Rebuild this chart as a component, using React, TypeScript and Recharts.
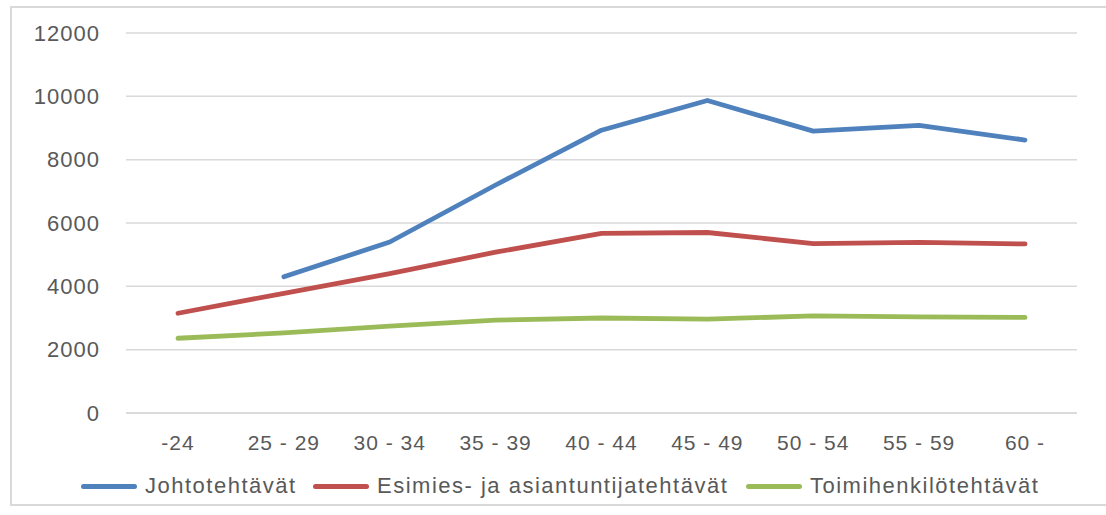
import { LineChart, Line, XAxis, YAxis, CartesianGrid } from 'recharts'

const ageGroups = ['-24', '25 - 29', '30 - 34', '35 - 39', '40 - 44', '45 - 49', '50 - 54', '55 - 59', '60 -']
const johto = [null, 4300, 5400, 7200, 8930, 9870, 8900, 9080, 8620]
const esimies = [3150, 3780, 4400, 5080, 5670, 5700, 5350, 5385, 5340]
const toimi = [2360, 2530, 2745, 2930, 3000, 2965, 3065, 3035, 3020]
const yTicks = [0, 2000, 4000, 6000, 8000, 10000, 12000]

const seriesInfo = [
  { key: 'johto', name: 'Johtotehtävät', color: '#4f81bd', left: 81 },
  { key: 'esimies', name: 'Esimies- ja asiantuntijatehtävät', color: '#c0504d', left: 313 },
  { key: 'toimi', name: 'Toimihenkilötehtävät', color: '#9bbb59', left: 746 },
]

const data = ageGroups.map((g, i) => ({
  group: g,
  johto: johto[i],
  esimies: esimies[i],
  toimi: toimi[i],
}))

const font = '"Liberation Sans", Arial, sans-serif'

function CustomLegend() {
  return (
    <div style={{ position: 'absolute', left: 0, top: 473, width: 1106, height: 28, fontFamily: font, fontSize: 22, letterSpacing: 1.5, color: '#595959' }}>
      {seriesInfo.map((s) => (
        <div key={s.key} style={{ position: 'absolute', left: s.left, top: 0, display: 'flex', alignItems: 'center', whiteSpace: 'nowrap' }}>
          <span style={{ display: 'inline-block', width: 56, height: 5, borderRadius: 3, background: s.color, marginRight: 8 }} />
          <span>{s.name}</span>
        </div>
      ))}
    </div>
  )
}

export default function App() {
  return (
    <div style={{ position: 'absolute', left: 0, top: 0, width: 1106, height: 515, background: '#fff' }}>
      <div style={{ position: 'absolute', left: 10, top: 6, width: 1100, height: 500, border: '2px solid #d9d9d9', boxSizing: 'border-box' }} />
      <LineChart
        width={1106}
        height={515}
        data={data}
        margin={{ top: 33, right: 29, left: 66, bottom: 52 }}
      >
        <CartesianGrid vertical={false} stroke="#d9d9d9" strokeWidth={1.5} />
        <XAxis
          dataKey="group"
          axisLine={{ stroke: '#d9d9d9', strokeWidth: 1.5 }}
          tickLine={false}
          tick={{ fill: '#595959', fontSize: 21, fontFamily: font, letterSpacing: 1 }}
          tickMargin={16}
          height={50}
          padding={{ left: 52, right: 52 }}
          interval={0}
        />
        <YAxis
          domain={[0, 12000]}
          ticks={yTicks}
          axisLine={false}
          tickLine={false}
          tick={{ fill: '#595959', fontSize: 22, fontFamily: font, letterSpacing: 1 }}
          tickMargin={20}
          width={60}
          interval={0}
        />
        {seriesInfo.map((s) => (
          <Line
            key={s.key}
            type="linear"
            dataKey={s.key}
            name={s.name}
            stroke={s.color}
            strokeWidth={4.8}
            strokeLinecap="round"
            strokeLinejoin="round"
            dot={false}
            activeDot={false}
            isAnimationActive={false}
          />
        ))}
      </LineChart>
      <CustomLegend />
    </div>
  )
}
